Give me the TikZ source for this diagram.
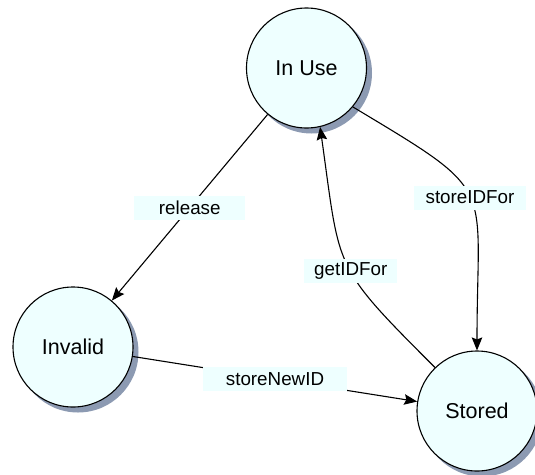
\documentclass[tikz,border=0pt]{standalone}
\usepackage{fontspec}
\setmainfont{Liberation Sans}
\usetikzlibrary{arrows.meta}

\definecolor{statefill}{HTML}{EEFFFF}
\definecolor{stateshade}{RGB}{140,154,178}

\tikzset{
  state/.style={circle, draw=black, line width=1.1pt, fill=statefill,
    minimum size=120pt, inner sep=0pt, font=\fontsize{21.5}{24}\selectfont},
  stateback/.style={circle, fill=stateshade, draw=none, minimum size=121pt,
    inner sep=0pt},
  trans/.style={line width=1.1pt,
    -{Stealth[length=13pt,width=10.5pt,inset=2pt]}},
  lbl/.style={fill=statefill, inner sep=0pt, minimum height=24pt,
    font=\fontsize{18.8}{21}\selectfont}
}

\begin{document}
\begin{tikzpicture}[x=1pt,y=-1pt]
  \useasboundingbox (0,0) rectangle (535,474);

  % drop shadows, offset down and to the right of each state
  \node[stateback] (inuseBack)   at (311.5,73)  {};
  \node[stateback] (invalidBack) at (78,352)    {};
  \node[stateback] (storedBack)  at (482,416)   {};

  % states
  \node[state] (inuse)   at (306.5,68) {In Use};
  \node[state] (invalid) at (73,347)   {Invalid};
  \node[state] (stored)  at (477,411)  {Stored};

  % transitions
  \draw[trans] (inuse) -- node[lbl, minimum width=111pt] {release} (invalid);
  \draw[trans] (invalid) -- node[lbl, minimum width=144pt] {storeNewID} (stored);
  \draw[trans] (inuse.-40) to[out=-31, in=90, looseness=1.6]
    node[lbl, pos=0.5, minimum width=112pt] {storeIDFor} (stored.90);
  \draw[trans] (stored.134) to[out=135, in=-82, looseness=1.4]
    node[lbl, pos=0.45, minimum width=93pt] {getIDFor} (inuse.-77);
\end{tikzpicture}
\end{document}
